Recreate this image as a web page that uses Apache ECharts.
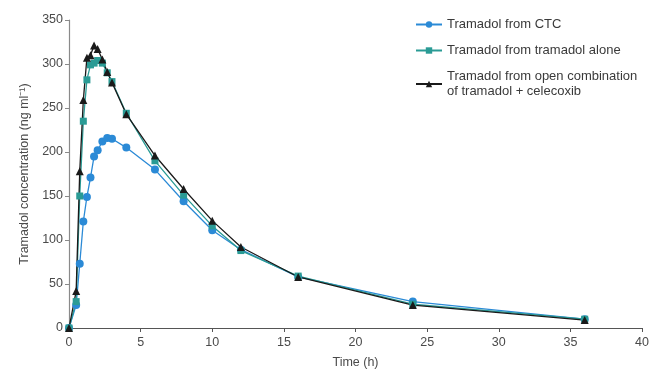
<!DOCTYPE html>
<html>
<head>
<meta charset="utf-8">
<script src="https://cdn.jsdelivr.net/npm/echarts@6/dist/echarts.min.js"></script>
<style>
  html, body { margin: 0; padding: 0; background: #fff; }
  #chart { width: 652px; height: 370px; }
</style>
</head>
<body>
<div id="chart"></div>
<script>
// sampling times (h)
const times = [0, 0.5, 0.75, 1, 1.25, 1.5, 1.75, 2, 2.33, 2.67, 3, 4, 6, 8, 10, 12, 16, 24, 36]

// mean tramadol plasma concentration (ng/ml)
const ctcValues = [0, 26, 73, 121, 149, 171, 195, 202, 212, 216, 215, 205, 180, 144, 111, 89, 58, 30, 10]
const aloneValues = [0, 30, 150, 235, 282, 299, 301, 304, 301, 290, 280, 244, 190, 151, 116, 88, 59, 27, 10]
const comboValues = [0, 42, 178, 259, 307, 310, 321, 317, 305, 291, 279, 243, 196, 158, 122, 92, 58, 26, 9]

const seriesNames = [
  'Tramadol from CTC',
  'Tramadol from tramadol alone',
  'Tramadol from open combination\nof tramadol + celecoxib',
]

const pairs = (values) => times.map((t, i) => [t, values[i]])

const font = "'Liberation Sans', Arial, sans-serif"
const axisColor = '#8a8a8a'
const labelColor = '#4a4a4a'

const chart = echarts.init(document.getElementById('chart'), null, { renderer: 'canvas' })

const lineSeries = (name, values, color, symbol, size) => ({
  name,
  type: 'line',
  data: pairs(values),
  symbol,
  symbolSize: size,
  showAllSymbol: true,
  lineStyle: { color, width: 1.3 },
  itemStyle: { color },
  emphasis: { disabled: true },
})

chart.setOption({
  animation: false,
  textStyle: { fontFamily: font },
  grid: { left: 69, right: 10, top: 20, bottom: 42, outerBoundsMode: 'none' },
  legend: {
    orient: 'vertical',
    left: 410,
    top: 12,
    itemWidth: 26,
    itemHeight: 8,
    itemGap: 11,
    textStyle: { color: '#3a3a3a', fontSize: 13, fontFamily: font, lineHeight: 15 },
    data: seriesNames,
  },
  xAxis: {
    type: 'value',
    min: 0,
    max: 40,
    interval: 5,
    name: 'Time (h)',
    nameLocation: 'middle',
    nameGap: 28,
    nameTextStyle: { color: labelColor, fontSize: 12.5 },
    axisLine: { lineStyle: { color: '#555', width: 1.2 } },
    axisTick: { show: true, length: 4, lineStyle: { color: '#555' } },
    axisLabel: { color: labelColor, fontSize: 12.5, margin: 8 },
    splitLine: { show: false },
  },
  yAxis: {
    type: 'value',
    min: 0,
    max: 350,
    interval: 50,
    name: 'Tramadol concentration (ng ml⁻¹)',
    nameLocation: 'middle',
    nameGap: 34,
    nameTextStyle: { color: labelColor, fontSize: 12.5 },
    axisLine: { show: true, lineStyle: { color: axisColor, width: 1.2 } },
    axisTick: { show: true, length: 4, lineStyle: { color: axisColor } },
    axisLabel: { color: labelColor, fontSize: 12.5, margin: 6 },
    splitLine: { show: false },
  },
  series: [
    lineSeries(seriesNames[0], ctcValues, '#2b8ad6', 'circle', 8),
    lineSeries(seriesNames[1], aloneValues, '#2a9b95', 'rect', 7),
    lineSeries(seriesNames[2], comboValues, '#1a1a1a', 'triangle', 8),
  ],
})
</script>
</body>
</html>
